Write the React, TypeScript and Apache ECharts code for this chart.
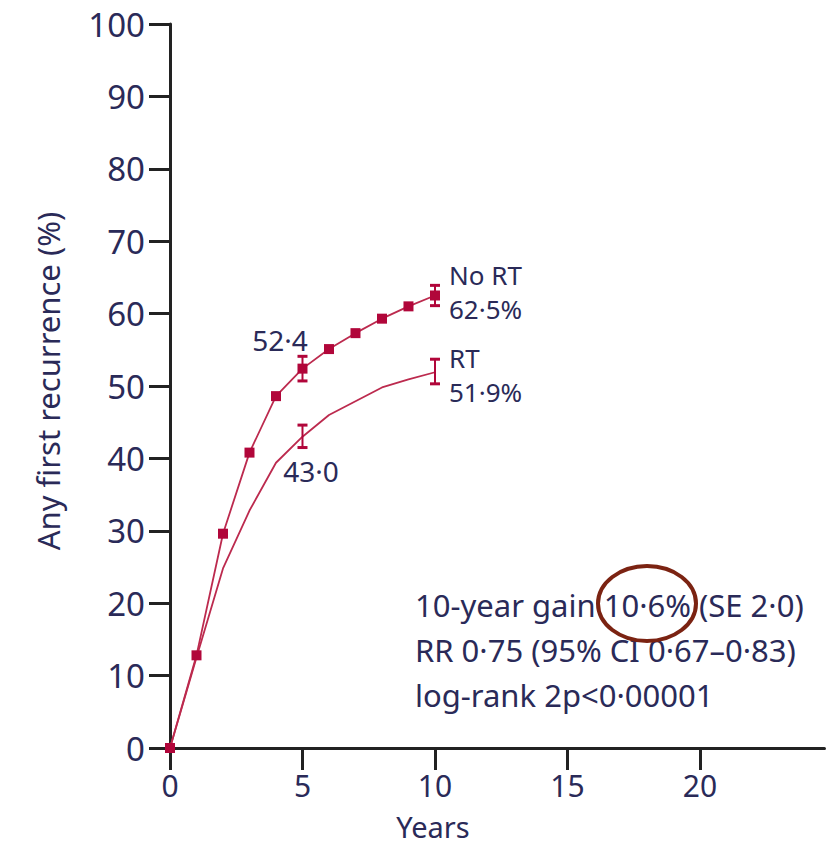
import React, { useEffect, useRef } from "react";
import * as echarts from "echarts";

const years = [0, 1, 2, 3, 4, 5, 6, 7, 8, 9, 10];
const noRt = [0, 12.8, 29.6, 40.8, 48.6, 52.4, 55.1, 57.3, 59.3, 61.0, 62.5];
const rt = [0, 12.5, 24.8, 32.8, 39.4, 43.0, 46.0, 47.9, 49.8, 50.9, 51.9];

const errYears = [5, 10];
const noRtLow = [50.7, 61.1];
const noRtHigh = [54.1, 63.9];
const rtLow = [41.5, 50.3];
const rtHigh = [44.6, 53.7];

const xTicks = [0, 5, 10, 15, 20];

const RED = "#b1063a";
const LINE = "#bc2a4e";
const TXT = "#2a2a58";
const AXIS = "#222222";
const FONT = "Noto Sans";

function errRender(color: string) {
  return (params: any, api: any) => {
    const x = api.value(0);
    const p1 = api.coord([x, api.value(1)]);
    const p2 = api.coord([x, api.value(2)]);
    const w = 5;
    return {
      type: "group",
      children: [
        { type: "line", shape: { x1: p1[0], y1: p1[1], x2: p2[0], y2: p2[1] }, style: { stroke: color, lineWidth: 2 } },
        { type: "line", shape: { x1: p1[0] - w, y1: p1[1], x2: p1[0] + w, y2: p1[1] }, style: { stroke: color, lineWidth: 3 } },
        { type: "line", shape: { x1: p2[0] - w, y1: p2[1], x2: p2[0] + w, y2: p2[1] }, style: { stroke: color, lineWidth: 3 } },
      ],
    };
  };
}

function txt(text: string, x: number, y: number, extra: any = {}) {
  return {
    type: "text",
    x,
    y,
    style: { text, fontSize: 30, fontFamily: FONT, fill: TXT, align: "left", verticalAlign: "middle", ...extra },
  };
}

export default function App() {
  const ref = useRef<HTMLDivElement>(null);
  useEffect(() => {
    document.body.style.margin = "0";
    const chart = echarts.init(ref.current!, undefined, { renderer: "svg" });
    chart.setOption({
      animation: false,
      backgroundColor: "#ffffff",
      grid: { left: 170, top: 24, width: 654.5, height: 724 },
      xAxis: {
        type: "value",
        min: 0,
        max: 24.7,
        axisLine: { show: true, lineStyle: { color: AXIS, width: 3 } },
        axisTick: { show: true, length: 22, lineStyle: { color: AXIS, width: 3 }, customValues: xTicks },
        axisLabel: { customValues: xTicks, margin: 22, fontSize: 30, fontFamily: FONT, color: TXT },
        splitLine: { show: false },
      },
      yAxis: {
        type: "value",
        min: 0,
        max: 100,
        interval: 10,
        axisLine: { show: true, lineStyle: { color: AXIS, width: 3 } },
        axisTick: { show: true, length: 21, lineStyle: { color: AXIS, width: 3 } },
        axisLabel: { margin: 25, fontSize: 33, fontFamily: FONT, color: TXT },
        splitLine: { show: false },
      },
      series: [
        {
          type: "line",
          data: years.map((y, i) => [y, rt[i]]),
          symbol: "none",
          lineStyle: { color: LINE, width: 1.8 },
          z: 2,
        },
        {
          type: "custom",
          data: errYears.map((y, i) => [y, rtLow[i], rtHigh[i]]),
          renderItem: errRender(RED),
          z: 3,
        },
        {
          type: "line",
          data: years.map((y, i) => [y, noRt[i]]),
          symbol: "rect",
          symbolSize: 10,
          itemStyle: { color: RED },
          lineStyle: { color: LINE, width: 1.8 },
          clip: false,
          z: 4,
        },
        {
          type: "custom",
          data: errYears.map((y, i) => [y, noRtLow[i], noRtHigh[i]]),
          renderItem: errRender(RED),
          z: 5,
        },
      ],
      graphic: [
        { ...txt("Any first recurrence (%)", 48, 381, { align: "center", fontSize: 31 }), rotation: Math.PI / 2 },
        txt("Years", 433, 826, { align: "center", fontSize: 29 }),
        txt("No RT", 449, 275, { fontSize: 26 }),
        txt("62·5%", 449, 309, { fontSize: 26 }),
        txt("RT", 449, 358, { fontSize: 26 }),
        txt("51·9%", 449, 392, { fontSize: 26 }),
        txt("52·4", 280, 340, { align: "center", fontSize: 28 }),
        txt("43·0", 311, 471, { align: "center", fontSize: 28 }),
        txt("10-year gain 10·6% (SE 2·0)", 415, 605, { fontSize: 31 }),
        txt("RR 0·75 (95% CI 0·67–0·83)", 415, 650, { fontSize: 31 }),
        txt("log-rank 2p<0·00001", 415, 695, { fontSize: 31 }),
        {
          type: "ellipse",
          shape: { cx: 647, cy: 603.5, rx: 49, ry: 37.5 },
          style: { fill: "none", stroke: "#7b2312", lineWidth: 4 },
          z: 10,
        },
      ],
    });
    return () => chart.dispose();
  }, []);
  return (
    <div
      ref={ref}
      style={{ position: "absolute", left: 0, top: 0, width: 826, height: 846, background: "#fff" }}
    />
  );
}
